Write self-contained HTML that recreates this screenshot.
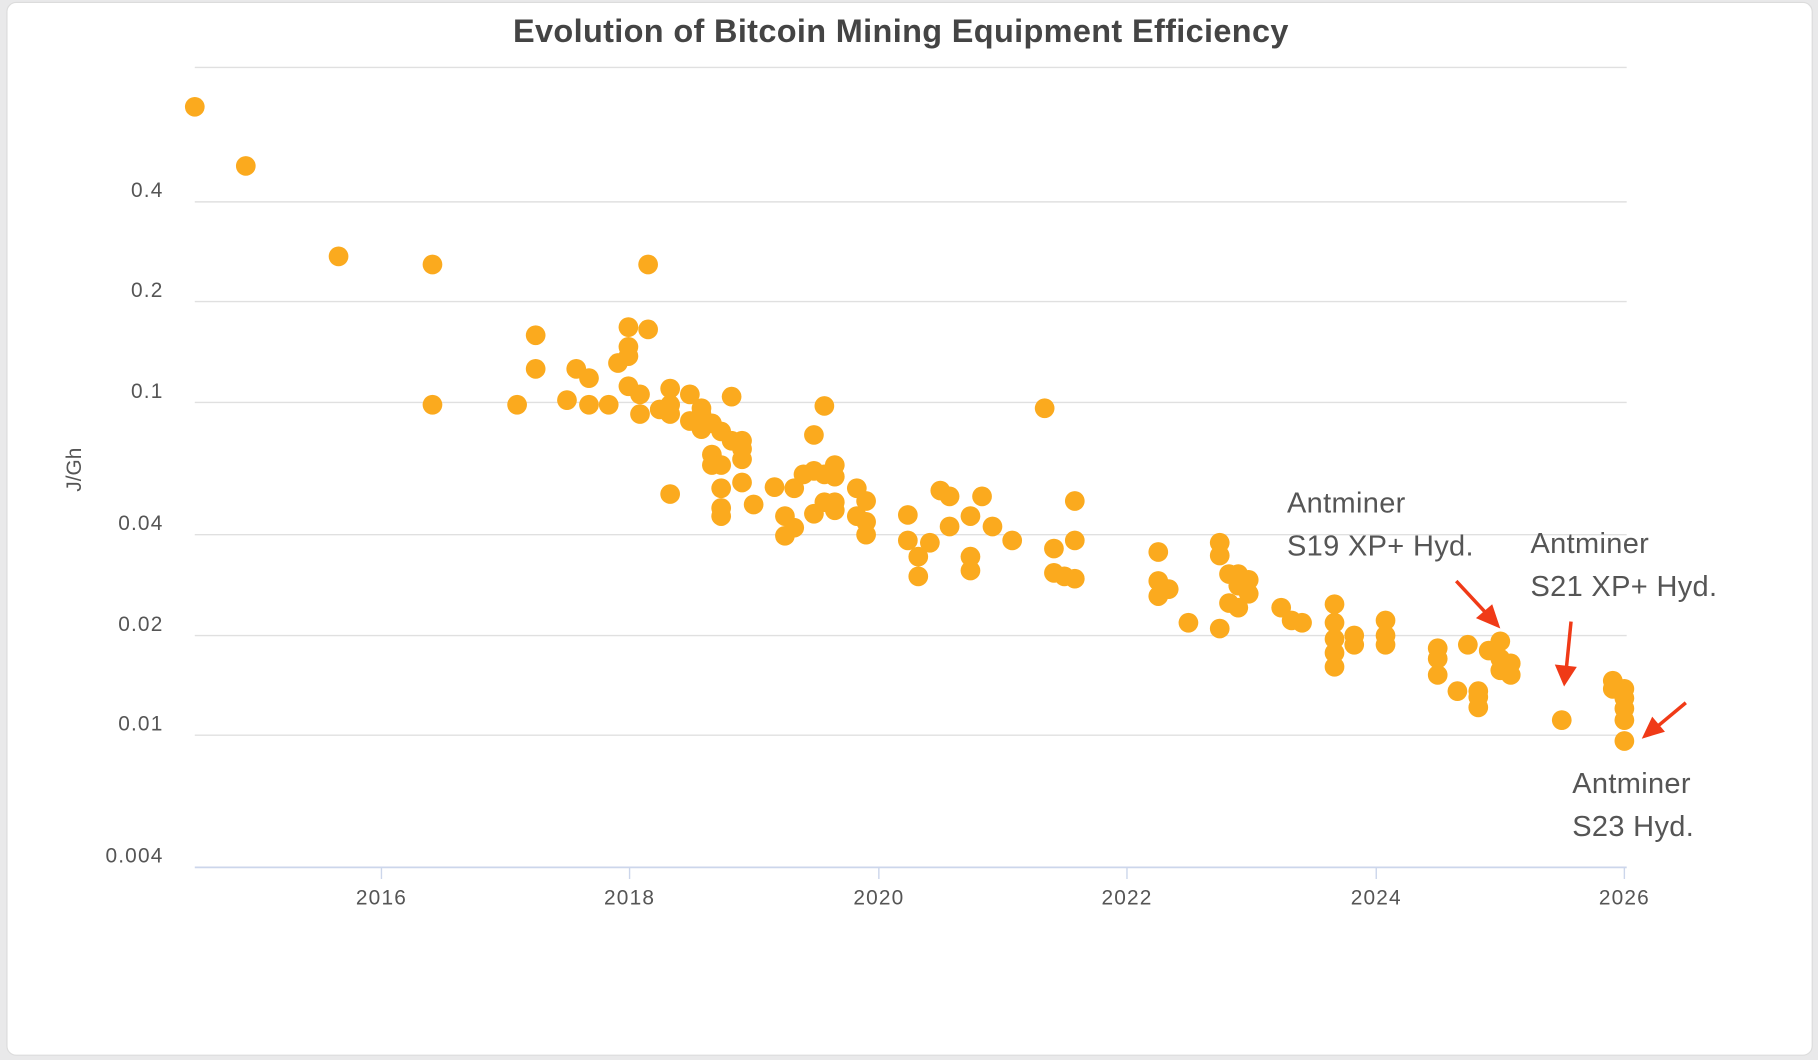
<!DOCTYPE html>
<html><head><meta charset="utf-8"><style>
html,body{margin:0;padding:0;background:#e9e9ea;width:1818px;height:1060px;overflow:hidden}
svg{display:block}
</style></head><body>
<svg width="1818" height="1060" viewBox="0 0 1568 914" xmlns="http://www.w3.org/2000/svg" font-family="Liberation Sans, sans-serif">
<rect x="6" y="2" width="1557" height="908" rx="8" fill="#fff" stroke="#dcdcdc"/>
<text x="777" y="36" text-anchor="middle" font-size="28" font-weight="bold" fill="#444" letter-spacing="0.3">Evolution of Bitcoin Mining Equipment Efficiency</text>
<g stroke="#e0e0e0" stroke-width="1.2">
<line x1="168" x2="1403" y1="58" y2="58"/><line x1="168" x2="1403" y1="174" y2="174"/>
<line x1="168" x2="1403" y1="260" y2="260"/><line x1="168" x2="1403" y1="347" y2="347"/>
<line x1="168" x2="1403" y1="461" y2="461"/><line x1="168" x2="1403" y1="548" y2="548"/>
<line x1="168" x2="1403" y1="634" y2="634"/>
</g>
<line x1="168" x2="1403" y1="748" y2="748" stroke="#ccd6eb" stroke-width="1.5"/>
<g stroke="#ccd6eb" stroke-width="1.2">
<line x1="329" x2="329" y1="748" y2="758"/><line x1="543" x2="543" y1="748" y2="758"/>
<line x1="758" x2="758" y1="748" y2="758"/><line x1="972" x2="972" y1="748" y2="758"/>
<line x1="1187" x2="1187" y1="748" y2="758"/><line x1="1401" x2="1401" y1="748" y2="758"/>
</g>
<g font-size="18" fill="#555" text-anchor="end" letter-spacing="1">
<text x="141" y="170">0.4</text><text x="141" y="256">0.2</text><text x="141" y="343">0.1</text>
<text x="141" y="457">0.04</text><text x="141" y="544">0.02</text><text x="141" y="630">0.01</text>
<text x="141" y="744">0.004</text>
</g>
<g font-size="18" fill="#555" text-anchor="middle" letter-spacing="1">
<text x="329" y="780">2016</text><text x="543" y="780">2018</text><text x="758" y="780">2020</text>
<text x="972" y="780">2022</text><text x="1187" y="780">2024</text><text x="1401" y="780">2026</text>
</g>
<text transform="translate(70,405) rotate(-90)" font-size="18" fill="#555" text-anchor="middle">J/Gh</text>
<g fill="#FBAA1E">
<circle cx="168" cy="92" r="8.5"/><circle cx="212" cy="143" r="8.5"/><circle cx="292" cy="221" r="8.5"/><circle cx="373" cy="228" r="8.5"/><circle cx="373" cy="349" r="8.5"/><circle cx="446" cy="349" r="8.5"/><circle cx="462" cy="289" r="8.5"/><circle cx="462" cy="318" r="8.5"/><circle cx="489" cy="345" r="8.5"/><circle cx="497" cy="318" r="8.5"/><circle cx="508" cy="326" r="8.5"/><circle cx="508" cy="349" r="8.5"/><circle cx="525" cy="349" r="8.5"/><circle cx="533" cy="313" r="8.5"/><circle cx="542" cy="282" r="8.5"/><circle cx="542" cy="299" r="8.5"/><circle cx="542" cy="307" r="8.5"/><circle cx="542" cy="333" r="8.5"/><circle cx="552" cy="340" r="8.5"/><circle cx="552" cy="357" r="8.5"/><circle cx="559" cy="228" r="8.5"/><circle cx="559" cy="284" r="8.5"/><circle cx="569" cy="353" r="8.5"/><circle cx="578" cy="335" r="8.5"/><circle cx="578" cy="349" r="8.5"/><circle cx="578" cy="357" r="8.5"/><circle cx="578" cy="426" r="8.5"/><circle cx="595" cy="340" r="8.5"/><circle cx="595" cy="363" r="8.5"/><circle cx="605" cy="352" r="8.5"/><circle cx="605" cy="357" r="8.5"/><circle cx="605" cy="370" r="8.5"/><circle cx="614" cy="365" r="8.5"/><circle cx="614" cy="392" r="8.5"/><circle cx="614" cy="401" r="8.5"/><circle cx="622" cy="372" r="8.5"/><circle cx="622" cy="401" r="8.5"/><circle cx="622" cy="421" r="8.5"/><circle cx="622" cy="438" r="8.5"/><circle cx="622" cy="445" r="8.5"/><circle cx="631" cy="342" r="8.5"/><circle cx="631" cy="380" r="8.5"/><circle cx="640" cy="380" r="8.5"/><circle cx="640" cy="387" r="8.5"/><circle cx="640" cy="396" r="8.5"/><circle cx="640" cy="416" r="8.5"/><circle cx="650" cy="435" r="8.5"/><circle cx="668" cy="420" r="8.5"/><circle cx="677" cy="445" r="8.5"/><circle cx="677" cy="462" r="8.5"/><circle cx="685" cy="421" r="8.5"/><circle cx="685" cy="455" r="8.5"/><circle cx="693" cy="409" r="8.5"/><circle cx="702" cy="375" r="8.5"/><circle cx="702" cy="406" r="8.5"/><circle cx="702" cy="443" r="8.5"/><circle cx="711" cy="350" r="8.5"/><circle cx="711" cy="409" r="8.5"/><circle cx="711" cy="433" r="8.5"/><circle cx="720" cy="401" r="8.5"/><circle cx="720" cy="411" r="8.5"/><circle cx="720" cy="433" r="8.5"/><circle cx="720" cy="440" r="8.5"/><circle cx="739" cy="421" r="8.5"/><circle cx="739" cy="445" r="8.5"/><circle cx="747" cy="432" r="8.5"/><circle cx="747" cy="450" r="8.5"/><circle cx="747" cy="461" r="8.5"/><circle cx="783" cy="444" r="8.5"/><circle cx="783" cy="466" r="8.5"/><circle cx="792" cy="480" r="8.5"/><circle cx="792" cy="497" r="8.5"/><circle cx="802" cy="468" r="8.5"/><circle cx="811" cy="423" r="8.5"/><circle cx="819" cy="428" r="8.5"/><circle cx="819" cy="454" r="8.5"/><circle cx="837" cy="445" r="8.5"/><circle cx="837" cy="480" r="8.5"/><circle cx="837" cy="492" r="8.5"/><circle cx="847" cy="428" r="8.5"/><circle cx="856" cy="454" r="8.5"/><circle cx="873" cy="466" r="8.5"/><circle cx="901" cy="352" r="8.5"/><circle cx="909" cy="473" r="8.5"/><circle cx="909" cy="494" r="8.5"/><circle cx="918" cy="497" r="8.5"/><circle cx="927" cy="432" r="8.5"/><circle cx="927" cy="466" r="8.5"/><circle cx="927" cy="499" r="8.5"/><circle cx="999" cy="476" r="8.5"/><circle cx="999" cy="501" r="8.5"/><circle cx="999" cy="514" r="8.5"/><circle cx="1008" cy="508" r="8.5"/><circle cx="1025" cy="537" r="8.5"/><circle cx="1052" cy="468" r="8.5"/><circle cx="1052" cy="479" r="8.5"/><circle cx="1052" cy="542" r="8.5"/><circle cx="1060" cy="495" r="8.5"/><circle cx="1060" cy="520" r="8.5"/><circle cx="1068" cy="495" r="8.5"/><circle cx="1068" cy="505" r="8.5"/><circle cx="1068" cy="524" r="8.5"/><circle cx="1077" cy="500" r="8.5"/><circle cx="1077" cy="512" r="8.5"/><circle cx="1105" cy="524" r="8.5"/><circle cx="1114" cy="535" r="8.5"/><circle cx="1123" cy="537" r="8.5"/><circle cx="1151" cy="521" r="8.5"/><circle cx="1151" cy="537" r="8.5"/><circle cx="1151" cy="551" r="8.5"/><circle cx="1151" cy="563" r="8.5"/><circle cx="1151" cy="575" r="8.5"/><circle cx="1168" cy="548" r="8.5"/><circle cx="1168" cy="556" r="8.5"/><circle cx="1195" cy="535" r="8.5"/><circle cx="1195" cy="548" r="8.5"/><circle cx="1195" cy="556" r="8.5"/><circle cx="1240" cy="559" r="8.5"/><circle cx="1240" cy="568" r="8.5"/><circle cx="1240" cy="582" r="8.5"/><circle cx="1257" cy="596" r="8.5"/><circle cx="1266" cy="556" r="8.5"/><circle cx="1275" cy="596" r="8.5"/><circle cx="1275" cy="601" r="8.5"/><circle cx="1275" cy="610" r="8.5"/><circle cx="1284" cy="561" r="8.5"/><circle cx="1294" cy="553" r="8.5"/><circle cx="1294" cy="568" r="8.5"/><circle cx="1294" cy="578" r="8.5"/><circle cx="1303" cy="572" r="8.5"/><circle cx="1303" cy="582" r="8.5"/><circle cx="1347" cy="621" r="8.5"/><circle cx="1391" cy="587" r="8.5"/><circle cx="1391" cy="594" r="8.5"/><circle cx="1401" cy="594" r="8.5"/><circle cx="1401" cy="602" r="8.5"/><circle cx="1401" cy="611" r="8.5"/><circle cx="1401" cy="621" r="8.5"/><circle cx="1401" cy="639" r="8.5"/>
</g>
<g font-size="25" fill="#555" letter-spacing="0.3">
<text x="1110" y="442">Antminer</text><text x="1110" y="479">S19 XP+ Hyd.</text>
<text x="1320" y="477">Antminer</text><text x="1320" y="514">S21 XP+ Hyd.</text>
<text x="1356" y="684">Antminer</text><text x="1356" y="721">S23 Hyd.</text>
</g>
<g stroke="#f03a17" stroke-width="3" fill="#f03a17">
<line x1="1256" y1="501" x2="1283" y2="530"/><polygon points="1294,542 1273,533 1287,521" stroke="none"/>
<line x1="1355" y1="536" x2="1351" y2="576"/><polygon points="1349,592 1341,573 1360,575" stroke="none"/>
<line x1="1454" y1="606" x2="1430" y2="626"/><polygon points="1416,637 1425,618 1436,631" stroke="none"/>
</g>
</svg>
</body></html>
